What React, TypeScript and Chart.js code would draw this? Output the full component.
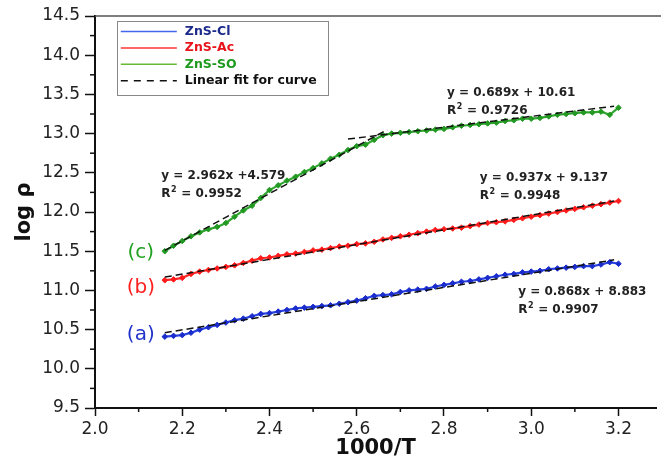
import React, { useEffect, useRef } from 'react';
import { Chart, registerables } from 'chart.js';

Chart.register(...registerables);

// 1000/T values (shared x for the three samples)
const invT = [
  2.16, 2.18, 2.20, 2.22, 2.24, 2.26, 2.28, 2.30, 2.32, 2.34,
  2.36, 2.38, 2.40, 2.42, 2.44, 2.46, 2.48, 2.50, 2.52, 2.54,
  2.56, 2.58, 2.60, 2.62, 2.64, 2.66, 2.68, 2.70, 2.72, 2.74,
  2.76, 2.78, 2.80, 2.82, 2.84, 2.86, 2.88, 2.90, 2.92, 2.94,
  2.96, 2.98, 3.00, 3.02, 3.04, 3.06, 3.08, 3.10, 3.12, 3.14,
  3.16, 3.18, 3.20,
];

// log rho for each sample
const znsCl = [
  10.41, 10.42, 10.43, 10.46, 10.50, 10.53, 10.56, 10.59, 10.62, 10.64,
  10.67, 10.70, 10.71, 10.73, 10.75, 10.77, 10.78, 10.79, 10.80, 10.81,
  10.83, 10.85, 10.87, 10.90, 10.93, 10.94, 10.95, 10.98, 11.00, 11.01,
  11.02, 11.05, 11.07, 11.09, 11.11, 11.12, 11.14, 11.16, 11.18, 11.20,
  11.21, 11.23, 11.24, 11.25, 11.27, 11.28, 11.29, 11.30, 11.31, 11.31,
  11.33, 11.36, 11.34,
];
const znsAc = [
  11.13, 11.14, 11.16, 11.21, 11.24, 11.26, 11.28, 11.30, 11.32, 11.35,
  11.38, 11.41, 11.42, 11.44, 11.46, 11.47, 11.49, 11.51, 11.52, 11.54,
  11.56, 11.57, 11.59, 11.60, 11.62, 11.65, 11.67, 11.69, 11.71, 11.73,
  11.75, 11.77, 11.78, 11.79, 11.80, 11.82, 11.84, 11.86, 11.87, 11.88,
  11.90, 11.92, 11.94, 11.96, 11.98, 12.00, 12.02, 12.04, 12.06, 12.08,
  12.10, 12.12, 12.14,
];
const znsSO = [
  11.50, 11.57, 11.63, 11.69, 11.74, 11.78, 11.81, 11.86, 11.94, 12.02,
  12.08, 12.18, 12.28, 12.34, 12.40, 12.45, 12.51, 12.56, 12.62, 12.68,
  12.73, 12.79, 12.84, 12.86, 12.92, 12.98, 13.00, 13.01, 13.02, 13.03,
  13.04, 13.05, 13.06, 13.08, 13.10, 13.11, 13.12, 13.13, 13.14, 13.16,
  13.17, 13.19, 13.19, 13.20, 13.22, 13.24, 13.25, 13.26, 13.27, 13.27,
  13.28, 13.24, 13.33,
];

// linear fit end points
const fitClX = [2.16, 3.19];
const fitClY = [10.46, 11.39];
const fitAcX = [2.16, 3.19];
const fitAcY = [11.17, 12.14];
const fitSO1X = [2.16, 2.67];
const fitSO1Y = [11.51, 13.05];
const fitSO2X = [2.58, 3.19];
const fitSO2Y = [12.93, 13.35];

const legendLabels = ['ZnS-Cl', 'ZnS-Ac', 'ZnS-SO', 'Linear fit for curve'];
const fitEquations = ['y = 0.868x + 8.883', 'y = 0.937x + 9.137', 'y = 2.962x +4.579', 'y = 0.689x + 10.61'];
const fitR2 = ['0.9907', '0.9948', '0.9952', '0.9726'];
const curveTags = ['(a)', '(b)', '(c)'];

const FONT = "'DejaVu Sans', 'Liberation Sans', Arial, sans-serif";

const pts = (xs: number[], ys: number[]) => xs.map((x, i) => ({ x, y: ys[i] }));

const decorPlugin = {
  id: 'decor',
  afterDraw(chart: any) {
    const { ctx, chartArea } = chart;
    const xs = chart.scales.x;
    const ys = chart.scales.y;
    ctx.save();
    // top frame line
    ctx.strokeStyle = '#555';
    ctx.lineWidth = 1.5;
    ctx.beginPath();
    ctx.moveTo(chartArea.left, chartArea.top);
    ctx.lineTo(chart.width, chartArea.top);
    ctx.stroke();

    // minor ticks
    ctx.strokeStyle = '#111';
    ctx.lineWidth = 1.5;
    for (let v = 2.1; v < xs.max; v += 0.2) {
      const px = xs.getPixelForValue(v);
      ctx.beginPath();
      ctx.moveTo(px, chartArea.bottom);
      ctx.lineTo(px, chartArea.bottom + 4);
      ctx.stroke();
    }
    for (let v = 9.75; v < ys.max; v += 0.5) {
      const py = ys.getPixelForValue(v);
      ctx.beginPath();
      ctx.moveTo(chartArea.left, py);
      ctx.lineTo(chartArea.left - 5, py);
      ctx.stroke();
    }

    // legend box
    const lx = xs.getPixelForValue(2.05);
    const ly = ys.getPixelForValue(14.43);
    ctx.strokeStyle = '#888';
    ctx.lineWidth = 1;
    ctx.strokeRect(Math.round(lx) + 0.5, Math.round(ly) + 0.5, 211, 74);
    const lineCols = ['#4466ee', '#ff3333', '#66bb33', '#111'];
    const textCols = ['#1c2a8c', '#e8141c', '#1e9a1e', '#111'];
    ctx.font = `bold 12.5px ${FONT}`;
    ctx.textBaseline = 'middle';
    ctx.textAlign = 'left';
    legendLabels.forEach((lab, i) => {
      const y = ly + 10 + i * 16.4;
      ctx.strokeStyle = lineCols[i];
      ctx.lineWidth = 1.5;
      ctx.setLineDash(i === 3 ? [7, 6] : []);
      ctx.beginPath();
      ctx.moveTo(lx + 4, y);
      ctx.lineTo(lx + 60, y);
      ctx.stroke();
      ctx.setLineDash([]);
      ctx.fillStyle = textCols[i];
      ctx.fillText(lab, lx + 68, y);
    });

    // fit equations
    const eqPos = [
      [2.970, 10.98],
      [2.882, 12.434],
      [2.152, 12.459],
      [2.807, 13.518],
    ];
    ctx.fillStyle = '#222';
    eqPos.forEach(([vx, vy], i) => {
      const px = xs.getPixelForValue(vx);
      const py = ys.getPixelForValue(vy);
      ctx.font = `bold 12px ${FONT}`;
      ctx.fillText(fitEquations[i], px, py);
      const py2 = py + 18;
      ctx.fillText('R', px, py2);
      const rw = ctx.measureText('R').width;
      ctx.font = `bold 8px ${FONT}`;
      ctx.fillText('2', px + rw + 0.5, py2 - 4);
      const sw = ctx.measureText('2').width;
      ctx.font = `bold 12px ${FONT}`;
      ctx.fillText(' = ' + fitR2[i], px + rw + sw + 1, py2);
    });

    // curve tags
    const tagPos = [
      [2.105, 10.43],
      [2.105, 11.03],
      [2.105, 11.477],
    ];
    const tagCols = ['#2233cc', '#ff2020', '#22a022'];
    ctx.font = `20px ${FONT}`;
    ctx.textAlign = 'center';
    tagPos.forEach(([vx, vy], i) => {
      ctx.fillStyle = tagCols[i];
      ctx.fillText(curveTags[i], xs.getPixelForValue(vx), ys.getPixelForValue(vy));
    });
    ctx.restore();
  },
};

export default function App() {
  const ref = useRef<HTMLCanvasElement | null>(null);
  useEffect(() => {
    document.body.style.margin = '0';
    const canvas = ref.current;
    if (!canvas) return;
    const fitStyle = {
      type: 'line' as const,
      borderColor: '#111',
      borderWidth: 1.5,
      borderDash: [7, 4],
      pointRadius: 0,
      fill: false,
    };
    const seriesStyle = (line: string, mark: string) => ({
      type: 'line' as const,
      borderColor: line,
      borderWidth: 2.2,
      pointStyle: 'rectRot' as const,
      pointRadius: 2.8,
      pointBackgroundColor: mark,
      pointBorderColor: mark,
      pointBorderWidth: 1,
      fill: false,
    });
    const chart = new Chart(canvas, {
      type: 'line',
      data: {
        datasets: [
          { label: 'fitCl', data: pts(fitClX, fitClY), ...fitStyle },
          { label: 'fitAc', data: pts(fitAcX, fitAcY), ...fitStyle },
          { label: 'fitSO1', data: pts(fitSO1X, fitSO1Y), ...fitStyle },
          { label: 'fitSO2', data: pts(fitSO2X, fitSO2Y), ...fitStyle },
          { label: legendLabels[0], data: pts(invT, znsCl), ...seriesStyle('#2a44e0', '#1a2ccc') },
          { label: legendLabels[1], data: pts(invT, znsAc), ...seriesStyle('#ff2a2a', '#ff1a1a') },
          { label: legendLabels[2], data: pts(invT, znsSO), ...seriesStyle('#2fa52f', '#229922') },
        ],
      },
      options: {
        responsive: false,
        animation: false,
        events: [],
        layout: { padding: { top: 16, right: 0, left: 0, bottom: 0 } },
        plugins: { legend: { display: false }, tooltip: { enabled: false } },
        scales: {
          x: {
            type: 'linear',
            min: 2.0,
            max: 3.286,
            afterFit: (s: any) => { s.height = 53; },
            ticks: {
              stepSize: 0.2,
              includeBounds: false,
              autoSkip: false,
              maxRotation: 0,
              padding: 3,
              color: '#222',
              font: { family: FONT, size: 17 },
              callback: (v: any) => Number(v).toFixed(1),
            },
            grid: { drawOnChartArea: false, drawTicks: true, tickLength: 8, tickColor: '#111', tickWidth: 1.5 },
            border: { display: true, color: '#111', width: 2 },
            title: {
              display: true,
              text: '1000/T',
              color: '#111',
              font: { family: FONT, size: 21, weight: 'bold' },
              padding: { top: 0, bottom: 0 },
            },
          },
          y: {
            type: 'linear',
            min: 9.5,
            max: 14.5,
            afterFit: (s: any) => { s.width = 95; },
            ticks: {
              stepSize: 0.5,
              includeBounds: false,
              autoSkip: false,
              padding: 5,
              color: '#222',
              font: { family: FONT, size: 17 },
              callback: (v: any) => Number(v).toFixed(1),
            },
            grid: { drawOnChartArea: false, drawTicks: true, tickLength: 10, tickColor: '#111', tickWidth: 1.5 },
            border: { display: true, color: '#111', width: 2 },
            title: {
              display: true,
              text: 'log ρ',
              color: '#111',
              font: { family: FONT, size: 21, weight: 'bold' },
              padding: { top: 12, bottom: 0 },
            },
          },
        },
      },
      plugins: [decorPlugin],
    });
    return () => chart.destroy();
  }, []);
  return (
    <div style={{ width: 661, height: 461 }}>
      <canvas ref={ref} width={661} height={461} style={{ display: 'block' }} />
    </div>
  );
}
